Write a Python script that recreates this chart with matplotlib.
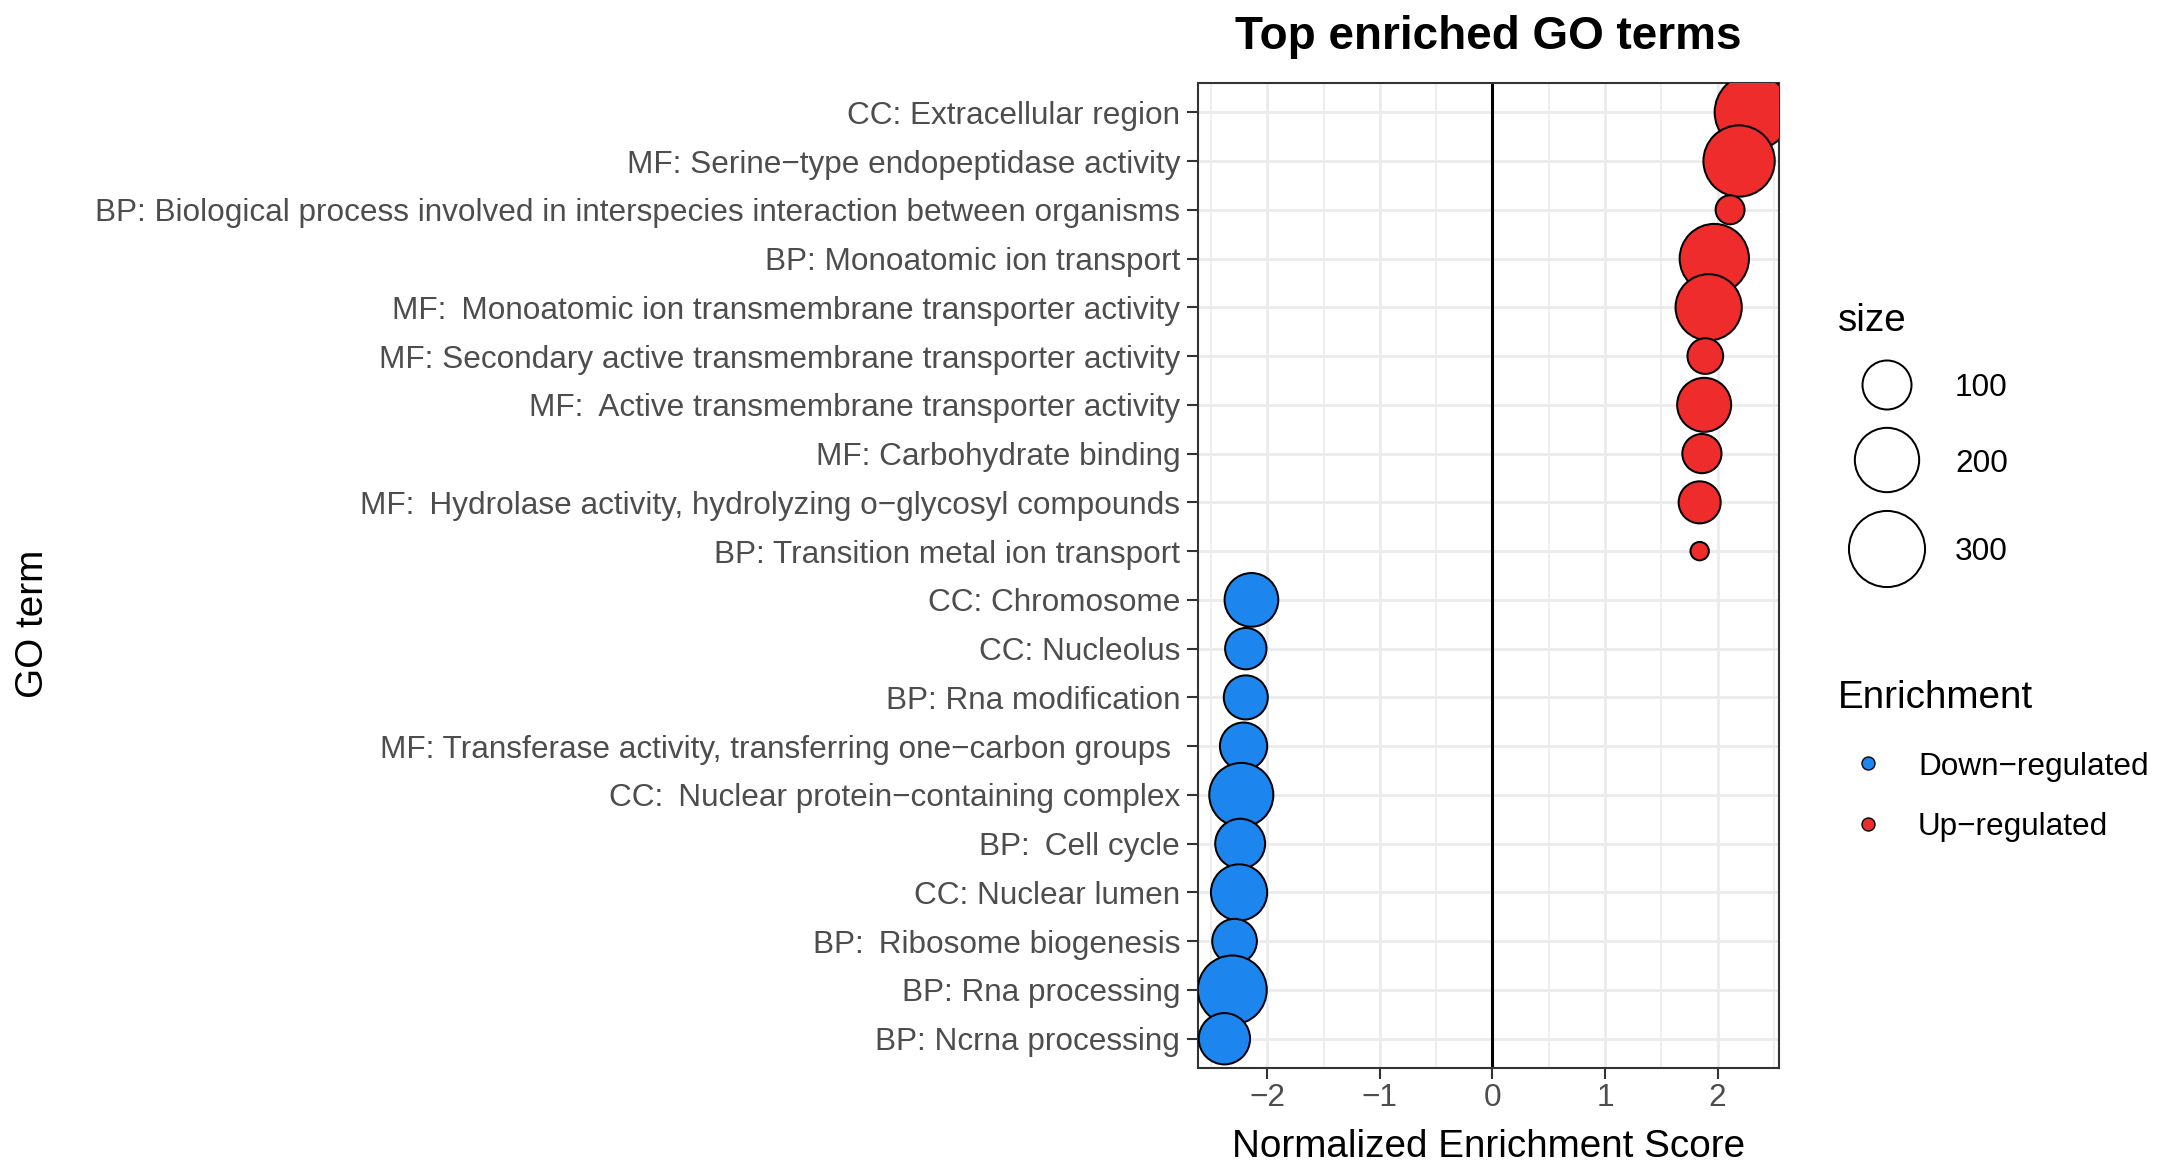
import numpy as np
import matplotlib.pyplot as plt

plt.rcParams['font.family'] = ['Liberation Sans', 'DejaVu Sans']

# GO terms, top row first
terms = [
    'CC: Extracellular region',
    'MF: Serine\u2212type endopeptidase activity',
    'BP: Biological process involved in interspecies interaction between organisms',
    'BP: Monoatomic ion transport',
    'MF: \u2009Monoatomic ion transmembrane transporter activity',
    'MF: Secondary active transmembrane transporter activity',
    'MF: \u2009Active transmembrane transporter activity',
    'MF: Carbohydrate binding',
    'MF: \u2009Hydrolase activity, hydrolyzing o\u2212glycosyl compounds',
    'BP: Transition metal ion transport',
    'CC: Chromosome',
    'CC: Nucleolus',
    'BP: Rna modification',
    'MF: Transferase activity, transferring one\u2212carbon groups ',
    'CC: \u2009Nuclear protein\u2212containing complex',
    'BP: \u2009Cell cycle',
    'CC: Nuclear lumen',
    'BP: \u2009Ribosome biogenesis',
    'BP: Rna processing',
    'BP: Ncrna processing',
]
nes = [2.31, 2.19, 2.11, 1.97, 1.92, 1.89, 1.88, 1.86, 1.84, 1.84,
       -2.14, -2.19, -2.19, -2.21, -2.23, -2.24, -2.25, -2.29, -2.31, -2.38]
set_size = [298, 257, 21, 240, 215, 41, 129, 54, 66, 3,
            127, 63, 75, 91, 198, 105, 143, 78, 237, 113]
direction = ['Up-regulated'] * 10 + ['Down-regulated'] * 10
size_breaks = [100, 200, 300]
groups = ['Down-regulated', 'Up-regulated']

colors = {'Down-regulated': '#1C86EE', 'Up-regulated': '#EE2C2C'}

W, H, DPI = 2164, 1173, 200
EDGE_PX = 2.0
TICK_SIZE = 11.35
TITLE_SIZE = 13.9


def marker_area(n):
    # outer diameter in px grows with sqrt of set size
    d_px = 14 + 3.7 * np.sqrt(np.asarray(n, dtype=float)) - EDGE_PX
    return (d_px * 72 / DPI) ** 2


fig = plt.figure(figsize=(W / DPI, H / DPI), dpi=DPI)
ax = fig.add_axes([1198 / W, 1 - 1068 / H, (1779 - 1198) / W, (1068 - 83) / H])

y = np.arange(len(terms))
ax.scatter(nes, y, s=marker_area(set_size), c=[colors[d] for d in direction],
           edgecolors='black', linewidths=EDGE_PX * 72 / DPI, zorder=3)
ax.axvline(0, color='black', lw=1.1, zorder=2)

ax.set_yticks(y)
ax.set_yticklabels(terms)
ax.set_ylim(len(terms) - 0.4, -0.6)
lo, hi = min(nes), max(nes)
pad = 0.05 * (hi - lo)
ax.set_xlim(lo - pad, hi + pad)
ax.set_xticks([-2, -1, 0, 1, 2])
ax.set_xticks([-2.5, -1.5, -0.5, 0.5, 1.5, 2.5], minor=True)

ax.grid(which='major', color='#EBEBEB', lw=1.0)
ax.grid(which='minor', axis='x', color='#EBEBEB', lw=0.6)
ax.set_axisbelow(True)
for sp in ax.spines.values():
    sp.set_color('#333333')
    sp.set_linewidth(0.75)
ax.tick_params(which='major', length=3.9, width=0.75, color='#333333',
               labelcolor='#4D4D4D', labelsize=TICK_SIZE)
ax.tick_params(axis='y', pad=2.5)
ax.tick_params(axis='x', pad=1.5)
ax.tick_params(which='minor', length=0)

ax.set_xlabel('Normalized Enrichment Score', fontsize=TITLE_SIZE, va='baseline')
ax.xaxis.set_label_coords(0.5, (1068 - 1157) / 985)
ax.set_ylabel('GO term', fontsize=TITLE_SIZE, va='center', ha='center')
ax.yaxis.set_label_coords((33 - 1198) / 581, (1068 - 624) / 985)
ax.text(0.5, (1068 - 49) / 985, 'Top enriched GO terms', transform=ax.transAxes,
        ha='center', va='baseline', fontsize=16.5, fontweight='bold')

# legends, laid out in pixel space
leg = fig.add_axes([0, 0, 1, 1])
leg.set_xlim(0, W)
leg.set_ylim(H, 0)
leg.axis('off')
leg.patch.set_visible(False)

leg.text(1838, 317, 'size', ha='left', va='center_baseline', fontsize=TITLE_SIZE)
for b, yy in zip(size_breaks, [385, 460, 549]):
    leg.scatter(1887, yy, s=marker_area(b), facecolors='none', edgecolors='black',
                linewidths=EDGE_PX * 72 / DPI)
    leg.text(1955, yy, str(b), ha='left', va='center_baseline', fontsize=TICK_SIZE)

leg.text(1838, 694, 'Enrichment', ha='left', va='center_baseline', fontsize=TITLE_SIZE)
for g, yy in zip(groups, [763, 824]):
    leg.scatter(1868, yy, s=(13 * 72 / DPI) ** 2, color=colors[g],
                edgecolors='black', linewidths=0.5)
    leg.text(1918, yy, g.replace('-', '\u2212'), ha='left', va='center_baseline',
             fontsize=TICK_SIZE)

fig.savefig('out.png', dpi=DPI)
